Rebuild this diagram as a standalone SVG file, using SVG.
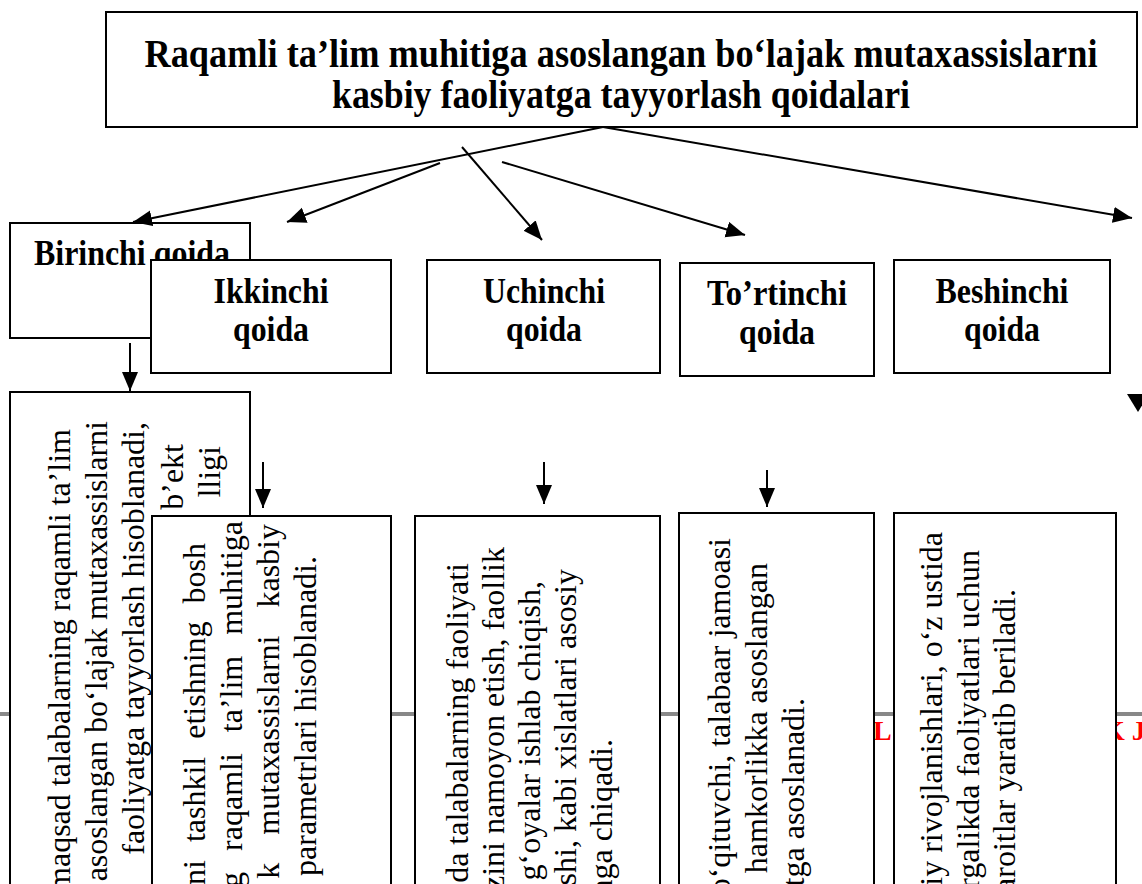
<svg xmlns="http://www.w3.org/2000/svg" width="1142" height="884" viewBox="0 0 1142 884">
<style>
.box{fill:#fff;stroke:#000;stroke-width:2}
.lbl{font-family:"Liberation Serif","Times New Roman",serif;font-weight:bold;font-size:35px;text-anchor:middle;fill:#000}
.ttl{font-family:"Liberation Serif","Times New Roman",serif;font-weight:bold;font-size:40px;text-anchor:middle;fill:#000}
.vt{font-family:"Liberation Serif","Times New Roman",serif;font-size:32px;text-anchor:end;fill:#000}
.con{stroke:#000;stroke-width:2;fill:none;marker-end:url(#ah)}
.red{font-family:"Liberation Serif","Times New Roman",serif;font-weight:bold;font-size:28px;fill:#ff0000}
</style>
<defs>
<marker id="ah" markerUnits="userSpaceOnUse" markerWidth="22" markerHeight="18" refX="19" refY="8" orient="auto">
<path d="M0,0 L19,8 L0,16 z" fill="#000"/>
</marker>
</defs>
<rect width="1142" height="884" fill="#fff"/>
<g id="background">
<line x1="0" y1="714" x2="1142" y2="714" stroke="#888888" stroke-width="4"/>
<text class="red" x="873" y="740">L</text>
<text class="red" x="1103" y="740">K J</text>
</g>
<g id="title">
<rect class="box" x="106" y="12" width="1031" height="115"/>
<text class="ttl" x="621" y="67" textLength="953" lengthAdjust="spacingAndGlyphs">Raqamli ta’lim muhitiga asoslangan bo‘lajak mutaxassislarni</text>
<text class="ttl" x="621" y="108" textLength="578" lengthAdjust="spacingAndGlyphs">kasbiy faoliyatga tayyorlash qoidalari</text>
</g>
<g id="rule1">
<rect class="box" x="10" y="223" width="240" height="115"/>
<text class="lbl" x="132" y="265" textLength="196" lengthAdjust="spacingAndGlyphs">Birinchi qoida</text>
</g>
<g id="rule2">
<rect class="box" x="151" y="260" width="240" height="113"/>
<text class="lbl" x="271" y="303" textLength="115" lengthAdjust="spacingAndGlyphs">Ikkinchi</text>
<text class="lbl" x="271" y="341" textLength="76" lengthAdjust="spacingAndGlyphs">qoida</text>
</g>
<g id="rule3">
<rect class="box" x="427" y="260" width="233" height="113"/>
<text class="lbl" x="544" y="303" textLength="122" lengthAdjust="spacingAndGlyphs">Uchinchi</text>
<text class="lbl" x="544" y="341" textLength="76" lengthAdjust="spacingAndGlyphs">qoida</text>
</g>
<g id="rule4">
<rect class="box" x="680" y="263" width="194" height="113"/>
<text class="lbl" x="777" y="305" textLength="140" lengthAdjust="spacingAndGlyphs">To’rtinchi</text>
<text class="lbl" x="777" y="344" textLength="76" lengthAdjust="spacingAndGlyphs">qoida</text>
</g>
<g id="rule5">
<rect class="box" x="894" y="260" width="216" height="113"/>
<text class="lbl" x="1002" y="303" textLength="133" lengthAdjust="spacingAndGlyphs">Beshinchi</text>
<text class="lbl" x="1002" y="341" textLength="76" lengthAdjust="spacingAndGlyphs">qoida</text>
</g>
<g id="desc1">
<rect class="box" x="10" y="392" width="240" height="500"/>
<text class="vt" transform="translate(70,429) rotate(-90)">maqsad talabalarning raqamli ta’lim</text>
<text class="vt" transform="translate(107,421) rotate(-90)">asoslangan bo‘lajak mutaxassislarni</text>
<text class="vt" transform="translate(144,422) rotate(-90)">faoliyatga tayyorlash hisoblanadi,</text>
<text class="vt" transform="translate(183,444) rotate(-90)">b’ekt</text>
<text class="vt" transform="translate(220,446) rotate(-90)">lligi</text>
</g>
<g id="desc2">
<rect class="box" x="152" y="516" width="239" height="380"/>
<text class="vt" transform="translate(205,543) rotate(-90)" word-spacing="10">ini tashkil etishning bosh</text>
<text class="vt" transform="translate(242,521) rotate(-90)" word-spacing="13">g raqamli ta’lim muhitiga</text>
<text class="vt" transform="translate(279,524) rotate(-90)" word-spacing="20">k mutaxassislarni kasbiy</text>
<text class="vt" transform="translate(316,556) rotate(-90)">parametrlari hisoblanadi.</text>
</g>
<g id="desc3">
<rect class="box" x="415" y="516" width="245" height="380"/>
<text class="vt" transform="translate(468,563) rotate(-90)">da talabalarning faoliyati</text>
<text class="vt" transform="translate(504,547) rotate(-90)">zini namoyon etish, faollik</text>
<text class="vt" transform="translate(540,581) rotate(-90)">g‘oyalar ishlab chiqish,</text>
<text class="vt" transform="translate(576,569) rotate(-90)">shi, kabi xislatlari asosiy</text>
<text class="vt" transform="translate(612,739) rotate(-90)">nga chiqadi.</text>
</g>
<g id="desc4">
<rect class="box" x="679" y="513" width="195" height="380"/>
<text class="vt" transform="translate(730,538) rotate(-90)">o‘qituvchi, talabaar jamoasi</text>
<text class="vt" transform="translate(767,563) rotate(-90)">hamkorlikka asoslangan</text>
<text class="vt" transform="translate(804,698) rotate(-90)">tga asoslanadi.</text>
</g>
<g id="desc5">
<rect class="box" x="894" y="513" width="222" height="380"/>
<text class="vt" transform="translate(942,532) rotate(-90)">iy rivojlanishlari, o‘z ustida</text>
<text class="vt" transform="translate(979,550) rotate(-90)">rgalikda faoliyatlari uchun</text>
<text class="vt" transform="translate(1015,589) rotate(-90)">aroitlar yaratib beriladi.</text>
</g>
<g id="connectors">
<line class="con" x1="603" y1="127" x2="133" y2="222"/>
<line class="con" x1="440" y1="163" x2="287" y2="222"/>
<line class="con" x1="462" y1="147" x2="542" y2="240"/>
<line class="con" x1="502" y1="162" x2="745" y2="235"/>
<line class="con" x1="603" y1="127" x2="1132" y2="218"/>
<line class="con" x1="130" y1="343" x2="130" y2="391"/>
<line class="con" x1="263" y1="462" x2="263" y2="508"/>
<line class="con" x1="544" y1="462" x2="544" y2="504"/>
<line class="con" x1="767" y1="470" x2="767" y2="507"/>
<path d="M1127,394 L1149,394 L1138,412 z" fill="#000"/>
</g>
</svg>
